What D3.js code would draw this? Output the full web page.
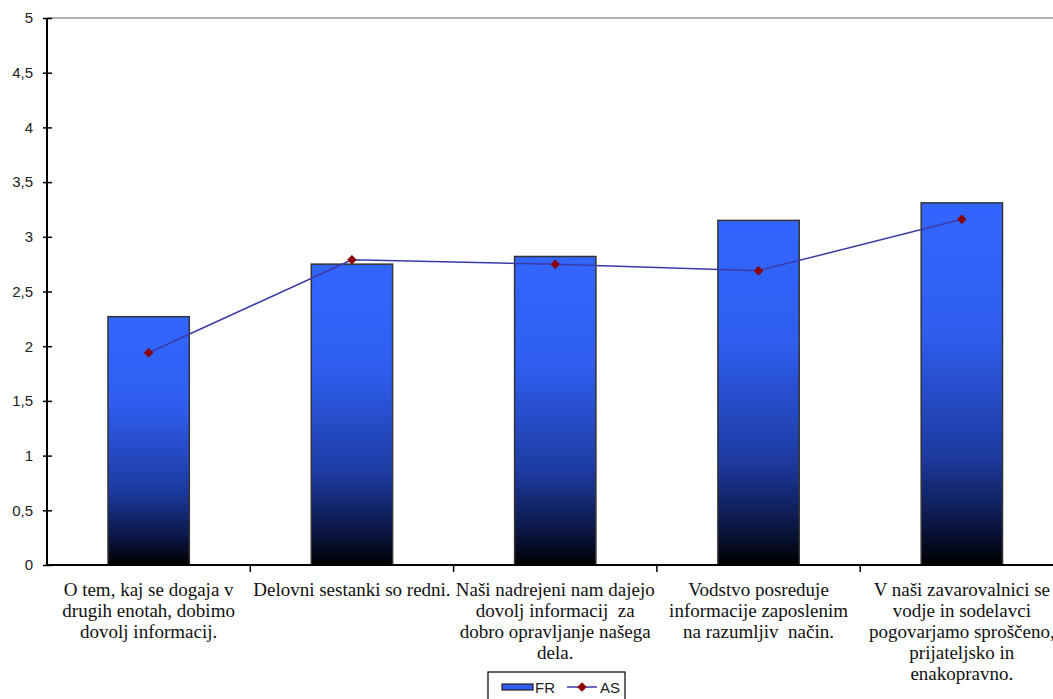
<!DOCTYPE html>
<html>
<head>
<meta charset="utf-8">
<script src="https://cdn.jsdelivr.net/npm/d3@7"></script>
<style>
  html, body { margin: 0; padding: 0; background: #fff; }
  svg { display: block; }
  .cat { font-family: "Liberation Serif", "Times New Roman", Times, serif; }
  .sans { font-family: "Liberation Sans", Arial, Helvetica, sans-serif; }
</style>
</head>
<body>
<svg id="chart" width="1053" height="699"></svg>
<script>
// Survey statements (category labels, pre-broken into lines)
const categories = ["c1", "c2", "c3", "c4", "c5"];
const categoryLabels = [
  ["O tem, kaj se dogaja v", "drugih enotah, dobimo", "dovolj informacij."],
  ["Delovni sestanki so redni."],
  ["Naši nadrejeni nam dajejo", "dovolj informacij  za", "dobro opravljanje našega", "dela."],
  ["Vodstvo posreduje", "informacije zaposlenim", "na razumljiv  način."],
  ["V naši zavarovalnici se", "vodje in sodelavci", "pogovarjamo sproščeno,", "prijateljsko in", "enakopravno."]
];
// Series
const frValues = [2.27, 2.75, 2.82, 3.15, 3.31];
const asValues = [1.94, 2.79, 2.75, 2.69, 3.16];
const yTicks = [0, 0.5, 1, 1.5, 2, 2.5, 3, 3.5, 4, 4.5, 5];
const tickLabels = ["0", "0,5", "1", "1,5", "2", "2,5", "3", "3,5", "4", "4,5", "5"];
const seriesNames = ["FR", "AS"];

const svg = d3.select("#chart");
const plotLeft = 47, plotTop = 18, plotBottom = 565;
const step = 203.3;

const x = d3.scaleBand().domain(categories)
  .range([plotLeft, plotLeft + step * categories.length])
  .paddingInner(0.6).paddingOuter(0.3);
const y = d3.scaleLinear().domain([0, 5]).range([plotBottom, plotTop]);

// Bar gradient: blue fading to black
const defs = svg.append("defs");
const grad = defs.append("linearGradient").attr("id", "barGrad")
  .attr("x1", 0).attr("y1", 0).attr("x2", 0).attr("y2", 1);
[[0, "#3366ff"], [0.35, "#2f5ef0"], [0.7, "#1d3aa0"], [0.88, "#0c1848"], [1, "#000000"]]
  .forEach(([o, c]) => grad.append("stop").attr("offset", o).attr("stop-color", c));

// Top border line of the plot
svg.append("line")
  .attr("x1", plotLeft).attr("x2", 1053)
  .attr("y1", y(5)).attr("y2", y(5))
  .attr("stroke", "#999").attr("stroke-width", 1.5);

// Bars
svg.append("g").selectAll("rect").data(frValues).join("rect")
  .attr("x", (d, i) => x(categories[i]))
  .attr("y", d => y(d))
  .attr("width", x.bandwidth())
  .attr("height", d => y(0) - y(d))
  .attr("fill", "url(#barGrad)")
  .attr("stroke", "#333").attr("stroke-width", 1.5);

// Y axis
const yAxis = d3.axisLeft(y).tickValues(yTicks)
  .tickFormat((d, i) => tickLabels[i]).tickSize(0).tickPadding(14);
const yg = svg.append("g").attr("transform", `translate(${plotLeft},0)`).call(yAxis);
yg.select(".domain").remove();
yg.attr("font-family", null);
yg.selectAll(".tick text").attr("class", "sans")
  .attr("font-size", 15).attr("fill", "#222");
yg.selectAll(".tick").append("line")
  .attr("x1", -4).attr("x2", 5).attr("stroke", "#000").attr("stroke-width", 1.5);
svg.append("line").attr("x1", plotLeft).attr("x2", plotLeft)
  .attr("y1", y(5)).attr("y2", y(0)).attr("stroke", "#000").attr("stroke-width", 2);

// X axis baseline and category boundary ticks
svg.append("line").attr("x1", plotLeft).attr("x2", 1053)
  .attr("y1", y(0)).attr("y2", y(0)).attr("stroke", "#000").attr("stroke-width", 2);
const bounds = d3.range(1, categories.length).map(i => plotLeft + i * x.step());
svg.append("g").selectAll("line").data(bounds).join("line")
  .attr("x1", d => d).attr("x2", d => d)
  .attr("y1", y(0)).attr("y2", y(0) + 7)
  .attr("stroke", "#000").attr("stroke-width", 1.5);

// Category labels
const labG = svg.append("g").attr("class", "cat")
  .attr("font-size", 19).attr("fill", "#111").attr("text-anchor", "middle");
categoryLabels.forEach((lines, i) => {
  const cx = x(categories[i]) + x.bandwidth() / 2;
  const t = labG.append("text").attr("x", cx).attr("y", 596);
  lines.forEach((ln, j) => {
    t.append("tspan").attr("x", cx).attr("dy", j === 0 ? 0 : 21).attr("xml:space", "preserve").text(ln);
  });
});

// AS line with diamond markers
const line = d3.line()
  .x((d, i) => x(categories[i]) + x.bandwidth() / 2)
  .y(d => y(d));
svg.append("path").datum(asValues)
  .attr("d", line).attr("fill", "none")
  .attr("stroke", "#3a3aa8").attr("stroke-width", 1.5);
const diamond = d3.symbol().type(d3.symbolSquare).size(45);
svg.append("g").selectAll("path").data(asValues).join("path")
  .attr("d", diamond)
  .attr("transform", (d, i) => `translate(${x(categories[i]) + x.bandwidth() / 2},${y(d)}) rotate(45)`)
  .attr("fill", "#8b0000");

// Legend
const lg = svg.append("g");
lg.append("rect").attr("x", 488).attr("y", 672).attr("width", 137).attr("height", 40)
  .attr("fill", "#fff").attr("stroke", "#000").attr("stroke-width", 1.2);
lg.append("rect").attr("x", 502).attr("y", 684).attr("width", 31).attr("height", 6)
  .attr("fill", "#2f5ef0").attr("stroke", "#222").attr("stroke-width", 1.2);
lg.append("text").attr("class", "sans").attr("x", 535).attr("y", 693).text(seriesNames[0])
  .attr("font-size", 15).attr("fill", "#222");
lg.append("line").attr("x1", 567).attr("x2", 597).attr("y1", 687).attr("y2", 687)
  .attr("stroke", "#3a3aa8").attr("stroke-width", 1.5);
lg.append("path").attr("d", diamond).attr("transform", "translate(582,687) rotate(45)").attr("fill", "#8b0000");
lg.append("text").attr("class", "sans").attr("x", 600).attr("y", 693).text(seriesNames[1])
  .attr("font-size", 15).attr("fill", "#222");
</script>
</body>
</html>
